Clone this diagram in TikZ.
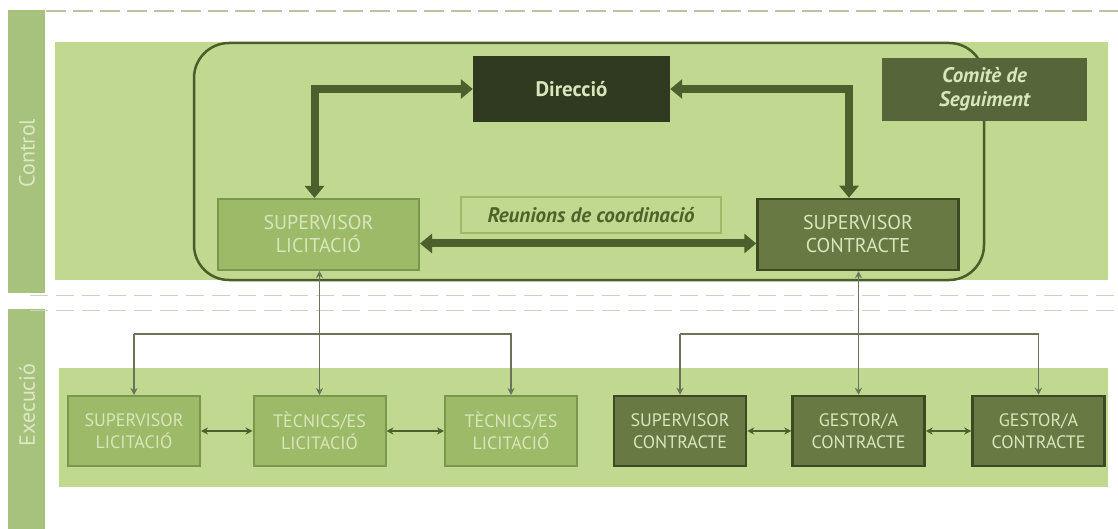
\documentclass[tikz,border=0pt]{standalone}
\usepackage{fontspec}
\setmainfont{PT Sans}
\usetikzlibrary{arrows.meta}
\definecolor{bandc}{HTML}{C0D88F}
\definecolor{barc}{HTML}{A7C27C}
\definecolor{bartext}{HTML}{DDE9C6}
\definecolor{slfill}{HTML}{9CBA67}
\definecolor{slborder}{HTML}{7A984B}
\definecolor{scfill}{HTML}{687944}
\definecolor{scborder}{HTML}{3C4922}
\definecolor{dirfill}{HTML}{2F3A20}
\definecolor{comfill}{HTML}{56663A}
\definecolor{palet}{HTML}{D8E6BC}
\definecolor{arrowc}{HTML}{4C602E}
\definecolor{thinc}{HTML}{6B735A}
\definecolor{rrc}{HTML}{4A5E2A}
\definecolor{reuntext}{HTML}{4F6228}
\definecolor{dashc}{HTML}{BCC2A6}
\definecolor{dotc}{HTML}{CDD2BE}
\begin{document}
\begin{tikzpicture}[x=1pt,y=-1pt,
  boxbase/.style={rectangle, inner sep=0pt, align=center, text=palet, font=\fontsize{20}{23}\selectfont},
  lbox/.style={boxbase, fill=slfill, draw=slborder, line width=2pt},
  dbox/.style={boxbase, fill=scfill, draw=scborder, line width=2.5pt},
  xbox/.style={minimum width=132pt, minimum height=70pt, font=\fontsize{18}{22}\selectfont},
  thickarrow/.style={draw=arrowc, line width=8pt, {Triangle[width=19pt,length=12pt]}-{Triangle[width=19pt,length=12pt]}},
  thinarrow/.style={draw=thinc, line width=1.6pt, {Stealth[width=7pt,length=7pt]}-{Stealth[width=7pt,length=7pt]}},
  thinend/.style={draw=thinc, line width=1.6pt, -{Stealth[width=7pt,length=7pt]}},
  smallarrow/.style={draw=arrowc, line width=1.6pt, {Stealth[width=7pt,length=7pt]}-{Stealth[width=7pt,length=7pt]}},
  bartxt/.style={text=bartext, rotate=90, font=\fontsize{22}{24}\selectfont}
]
\useasboundingbox (0,0) rectangle (1118,529);
% left bars
\fill[barc] (8,10) rectangle (45,293);
\fill[barc] (8,309) rectangle (45,529);
\node[bartxt] (ctl) at (27,153) {Control};
\node[bartxt] (exe) at (27,405) {Execució};
% top dashed line
\draw[dashc, line width=2pt, dash pattern=on 20pt off 7pt] (46,11) -- (1118,11);
% bands
\fill[bandc] (55,42) rectangle (1108,280);
\fill[bandc] (59,368) rectangle (1108,487);
% separating dotted lines
\draw[dotc, line width=1pt, dash pattern=on 18pt off 8pt] (30,295) -- (1118,295);
\draw[dotc, line width=1pt, dash pattern=on 18pt off 8pt] (30,310) -- (1118,310);
% rounded frame
\draw[rrc, line width=2.5pt, rounded corners=35pt] (194,43) rectangle (984,280);
% control nodes
\node[boxbase, fill=dirfill, minimum width=197pt, minimum height=66pt, font=\bfseries\fontsize{21}{24}\selectfont] (dir) at (571.5,89) {Direcció};
\node[boxbase, fill=comfill, minimum width=205pt, minimum height=63pt, font=\bfseries\itshape\fontsize{21}{24}\selectfont] (com) at (984.5,89.5) {Comitè de\\Seguiment};
\node[lbox, minimum width=201pt, minimum height=71pt] (sl) at (318.5,234.5) {SUPERVISOR\\LICITACIÓ};
\node[dbox, minimum width=201pt, minimum height=71pt] (sc) at (858,234.5) {SUPERVISOR\\CONTRACTE};
\node[boxbase, fill=bandc, draw=slfill, line width=1.5pt, minimum width=260pt, minimum height=36pt, text=reuntext, font=\bfseries\itshape\fontsize{21}{24}\selectfont] (reu) at (591,215) {Reunions de coordinació};
% thick arrows
\draw[thickarrow] ([xshift=-4pt]sl.north) |- (dir.west);
\draw[thickarrow] ([xshift=-9pt]sc.north) |- (dir.east);
\draw[thickarrow] ([yshift=-9pt]sl.east) -- ([yshift=-9pt]sc.west);
% execution nodes
\node[lbox, xbox] (slx) at (134,431) {SUPERVISOR\\LICITACIÓ};
\node[lbox, xbox] (tl1) at (319.5,431) {TÈCNICS/ES\\LICITACIÓ};
\node[lbox, xbox] (tl2) at (511,431) {TÈCNICS/ES\\LICITACIÓ};
\node[dbox, xbox] (scx) at (680,431) {SUPERVISOR\\CONTRACTE};
\node[dbox, xbox] (gc1) at (858.5,431) {GESTOR/A\\CONTRACTE};
\node[dbox, xbox] (gc2) at (1038.5,431) {GESTOR/A\\CONTRACTE};
% connectors control -> execution
\coordinate (bus) at (0,334);
\draw[thinarrow] (sl.south -| tl1.north) -- (tl1.north);
\draw[thinend] (slx.north |- bus) -- (tl2.north |- bus) -- (tl2.north);
\draw[thinend] (slx.north |- bus) -- (slx.north);
\draw[thinarrow] (sc.south -| gc1.north) -- (gc1.north);
\draw[thinend] (scx.north |- bus) -- (gc2.north |- bus) -- (gc2.north);
\draw[thinend] (scx.north |- bus) -- (scx.north);
% execution links
\draw[smallarrow] (slx.east) -- (tl1.west);
\draw[smallarrow] (tl1.east) -- (tl2.west);
\draw[smallarrow] (scx.east) -- (gc1.west);
\draw[smallarrow] (gc1.east) -- (gc2.west);
\end{tikzpicture}
\end{document}
